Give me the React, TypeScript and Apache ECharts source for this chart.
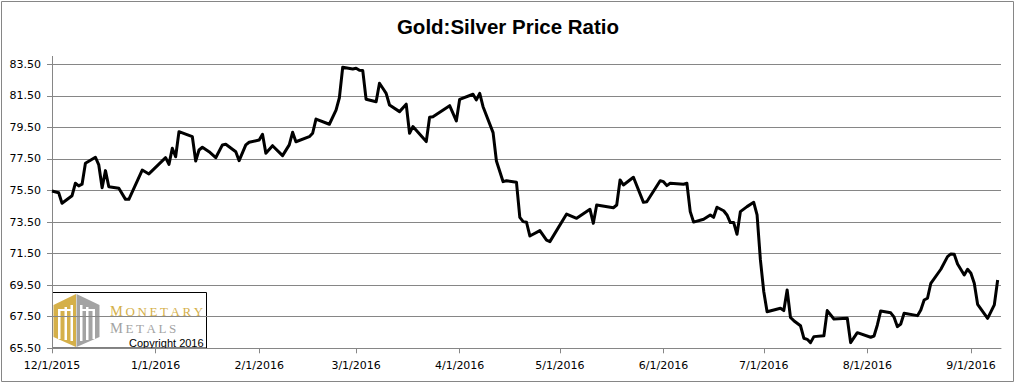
import React, { useEffect, useRef } from "react";
import * as echarts from "echarts";

const chartTitle = "Gold:Silver Price Ratio";

const dates = [
  "2015-12-01","2015-12-03","2015-12-04","2015-12-07","2015-12-08","2015-12-09","2015-12-10","2015-12-11",
  "2015-12-14","2015-12-15","2015-12-16","2015-12-17","2015-12-18","2015-12-21","2015-12-23","2015-12-24",
  "2015-12-28","2015-12-30",
  "2016-01-04","2016-01-05","2016-01-06","2016-01-07","2016-01-08","2016-01-12","2016-01-13","2016-01-14",
  "2016-01-15","2016-01-17","2016-01-19","2016-01-21","2016-01-22","2016-01-25","2016-01-26","2016-01-28",
  "2016-01-29",
  "2016-02-01","2016-02-02","2016-02-03","2016-02-05","2016-02-08","2016-02-10","2016-02-11","2016-02-12",
  "2016-02-16","2016-02-17","2016-02-18","2016-02-22","2016-02-24","2016-02-25","2016-02-26","2016-02-29",
  "2016-03-01","2016-03-02","2016-03-03","2016-03-04","2016-03-07","2016-03-08","2016-03-09","2016-03-10",
  "2016-03-11","2016-03-14","2016-03-16","2016-03-17","2016-03-18","2016-03-22","2016-03-23","2016-03-24",
  "2016-03-29","2016-03-31",
  "2016-04-01","2016-04-05","2016-04-06","2016-04-07","2016-04-08","2016-04-11","2016-04-12","2016-04-14",
  "2016-04-15","2016-04-18","2016-04-19","2016-04-20","2016-04-21","2016-04-22","2016-04-25","2016-04-27",
  "2016-04-28",
  "2016-05-03","2016-05-06","2016-05-10","2016-05-11","2016-05-12","2016-05-17","2016-05-18","2016-05-19",
  "2016-05-20","2016-05-23","2016-05-26","2016-05-27","2016-05-31",
  "2016-06-01","2016-06-02","2016-06-03","2016-06-07","2016-06-08","2016-06-09","2016-06-10","2016-06-13",
  "2016-06-15","2016-06-16","2016-06-17","2016-06-19","2016-06-20","2016-06-21","2016-06-22","2016-06-23",
  "2016-06-24","2016-06-26","2016-06-28","2016-06-29","2016-06-30",
  "2016-07-01","2016-07-02","2016-07-04","2016-07-06","2016-07-07","2016-07-08","2016-07-09","2016-07-10",
  "2016-07-12","2016-07-13","2016-07-14","2016-07-15","2016-07-16","2016-07-19","2016-07-20","2016-07-22",
  "2016-07-26","2016-07-27","2016-07-29",
  "2016-08-02","2016-08-03","2016-08-04","2016-08-05","2016-08-08","2016-08-09","2016-08-10","2016-08-11",
  "2016-08-12","2016-08-16","2016-08-17","2016-08-18","2016-08-19","2016-08-20","2016-08-23","2016-08-25",
  "2016-08-26","2016-08-27","2016-08-28","2016-08-30","2016-08-31",
  "2016-09-01","2016-09-02","2016-09-03","2016-09-06","2016-09-08","2016-09-09",
];

const ratio = [
  75.47, 75.36, 74.69, 75.17, 75.96, 75.79, 75.9, 77.23,
  77.61, 77.12, 75.68, 76.76, 75.74, 75.64, 74.94, 74.94,
  76.8, 76.55,
  77.58, 77.16, 78.18, 77.64, 79.23, 78.91, 77.37, 78.07,
  78.24, 77.96, 77.58, 78.39, 78.43, 77.96, 77.39, 78.39,
  78.56,
  78.7, 79.06, 77.86, 78.34, 77.71, 78.39, 79.19, 78.59,
  78.91, 79.13, 80.03, 79.7, 80.6, 81.38, 83.31, 83.2,
  83.25, 83.12, 83.1, 81.28, 81.13, 82.3, 81.98, 81.66,
  80.92, 80.5, 80.97, 79.13, 79.55, 78.6, 80.14, 80.18,
  80.88, 79.91,
  81.28, 81.6, 81.24, 81.66, 80.81, 79.17, 77.37, 76.06,
  76.12, 76.02, 73.8, 73.53, 73.49, 72.62, 72.96, 72.35,
  72.26,
  74.01, 73.74, 74.31, 73.42, 74.58, 74.41, 74.58, 76.17,
  75.85, 76.34, 74.75, 74.79, 76.12,
  76.06, 75.81, 75.96, 75.9, 75.96, 74.16, 73.5, 73.68,
  73.95, 73.8, 74.44, 74.22, 73.95, 73.47, 73.47, 72.73,
  74.16, 74.48, 74.75, 73.95, 71.1,
  69.1, 67.82, 67.93, 68.04, 67.89, 69.2, 67.45, 67.25,
  66.93, 66.14, 66.07, 65.86, 66.24, 66.3, 67.89, 67.36,
  67.4, 65.86, 66.49,
  66.2, 66.28, 66.98, 67.87, 67.75, 67.47, 66.87, 67.04,
  67.72, 67.57, 67.93, 68.56, 68.67, 69.62, 70.51, 71.31,
  71.48, 71.46, 70.84, 70.15, 70.51,
  70.26, 69.62, 68.29, 67.4, 68.25, 69.83,
];

const xTickDates = [
  "2015-12-01","2016-01-01","2016-02-01","2016-03-01","2016-04-01",
  "2016-05-01","2016-06-01","2016-07-01","2016-08-01","2016-09-01",
];
const xMinDate = "2015-12-01";
const xMaxDate = "2016-09-10";

const yTicks = [65.5, 67.5, 69.5, 71.5, 73.5, 75.5, 77.5, 79.5, 81.5, 83.5];
const yMin = 65.5;
const yMax = 84;

function ts(s: string): number {
  const [y, m, d] = s.split("-").map(Number);
  return Date.UTC(y, m - 1, d);
}

const GRID = "#868686";
const GOLD = "#d5b04a";
const GREY = "#a3a3a3";

export default function App() {
  const ref = useRef<HTMLDivElement>(null);
  useEffect(() => {
    document.body.style.margin = "0";
    if (!ref.current) return;
    const chart = echarts.init(ref.current, undefined, { renderer: "svg" });
    const data = dates.map((d, i) => [ts(d), ratio[i]]);
    const xTicks = xTickDates.map(ts);
    const thin = "\u2009";
    const spaced = (s: string) => s.split("").join(thin);
    chart.setOption({
      animation: false,
      backgroundColor: "#ffffff",
      title: {
        text: chartTitle,
        left: "center",
        top: 11,
        textStyle: { fontFamily: "Liberation Sans", fontWeight: "bold", fontSize: 20.5, color: "#000" },
      },
      grid: { left: 52, right: 15, top: 56.4, bottom: 34.7, containLabel: false, outerBoundsMode: "none" },
      xAxis: {
        type: "value",
        min: ts(xMinDate),
        max: ts(xMaxDate),
        axisLine: { show: true, onZero: false, lineStyle: { color: GRID, width: 1 } },
        axisTick: { show: true, length: 5, customValues: xTicks, lineStyle: { color: GRID } },
        axisLabel: {
          customValues: xTicks,
          margin: 12,
          fontFamily: "DejaVu Sans",
          fontSize: 11,
          color: "#000",
          formatter: (v: number) => {
            const d = new Date(v);
            return `${d.getUTCMonth() + 1}/${d.getUTCDate()}/${d.getUTCFullYear()}`;
          },
        },
        splitLine: { show: false },
      },
      yAxis: {
        type: "value",
        min: yMin,
        max: yMax,
        axisLine: { show: true, onZero: false, lineStyle: { color: GRID, width: 1 } },
        axisTick: { show: true, length: 5, customValues: yTicks, lineStyle: { color: GRID } },
        axisLabel: {
          customValues: yTicks,
          margin: 11,
          fontFamily: "DejaVu Sans",
          fontSize: 11,
          color: "#000",
          formatter: (v: number) => v.toFixed(2),
        },
        splitLine: { show: true, lineStyle: { color: GRID, width: 1 } },
      },
      series: [
        {
          type: "line",
          data,
          showSymbol: false,
          symbol: "none",
          lineStyle: { color: "#000", width: 3, join: "round" },
          z: 3,
        },
      ],
      graphic: [
        {
          type: "rect",
          z: 100,
          shape: { x: 1.5, y: 1.5, width: 1012, height: 380 },
          style: { fill: "none", stroke: GRID, lineWidth: 1 },
        },
        {
          type: "group",
          z: 100,
          children: [
            {
              type: "rect",
              shape: { x: 52.5, y: 292.5, width: 154, height: 55.5 },
              style: { fill: "#fff", stroke: "#000", lineWidth: 1 },
            },
            {
              type: "polygon",
              shape: { points: [[76, 294], [76, 347], [53.5, 337], [53.5, 305]] },
              style: { fill: GOLD },
            },
            {
              type: "polygon",
              shape: { points: [[76.5, 294], [99.5, 305], [99.5, 337], [76.5, 347]] },
              style: { fill: GREY },
            },
            { type: "rect", shape: { x: 58, y: 309, width: 2.5, height: 30 }, style: { fill: "#fff" } },
            { type: "rect", shape: { x: 64.5, y: 307, width: 2.5, height: 33 }, style: { fill: "#fff" } },
            { type: "rect", shape: { x: 70.5, y: 305, width: 2.5, height: 36 }, style: { fill: "#fff" } },
            { type: "rect", shape: { x: 58, y: 309, width: 15, height: 2 }, style: { fill: "#fff" } },
            { type: "rect", shape: { x: 80, y: 305, width: 2.5, height: 36 }, style: { fill: "#fff" } },
            { type: "rect", shape: { x: 86, y: 307, width: 2.5, height: 33 }, style: { fill: "#fff" } },
            { type: "rect", shape: { x: 92.5, y: 309, width: 2.5, height: 30 }, style: { fill: "#fff" } },
            { type: "rect", shape: { x: 80, y: 309, width: 15, height: 2 }, style: { fill: "#fff" } },
            {
              type: "text",
              style: {
                x: 110,
                y: 302.5,
                verticalAlign: "top",
                text:
                  `{ga|M}{gb|${thin}${spaced("ONETARY")}}\n` +
                  `{sa|M}{sb|${thin}${spaced("ETALS")}}\n` +
                  `{pad|}{c|Copyright 2016}`,
                rich: {
                  ga: { fontFamily: "Liberation Serif", fontSize: 14.5, lineHeight: 17, fill: GOLD, color: GOLD },
                  gb: { fontFamily: "Liberation Serif", fontSize: 13, lineHeight: 17, fill: GOLD, color: GOLD },
                  sa: { fontFamily: "Liberation Serif", fontSize: 14.5, lineHeight: 17, fill: GREY, color: GREY },
                  sb: { fontFamily: "Liberation Serif", fontSize: 13, lineHeight: 17, fill: GREY, color: GREY },
                  pad: { width: 19, lineHeight: 12, fontSize: 11 },
                  c: { fontFamily: "Liberation Sans", fontSize: 11, lineHeight: 12, fill: "#000", color: "#000" },
                },
              },
            },
          ],
        },
      ],
    });
    return () => chart.dispose();
  }, []);
  return <div ref={ref} style={{ width: 1016, height: 383 }} />;
}
